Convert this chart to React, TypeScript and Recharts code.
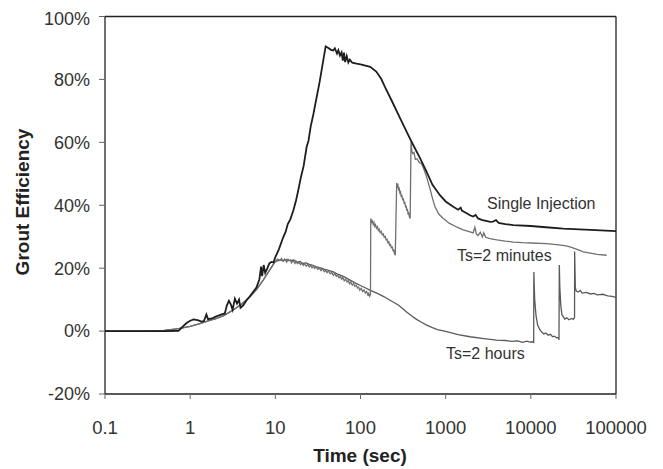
import React from 'react';
import { LineChart, Line, XAxis, YAxis, ReferenceLine, Customized } from 'recharts';

const xTicks = [0.1, 1, 10, 100, 1000, 10000, 100000];
const yTicks = [-20, 0, 20, 40, 60, 80, 100];

const sharedStart: [number, number][] = [
  [0.1, 0], [0.3, 0], [0.5, 0.2], [0.73, 0.8], [1, 1.5], [1.3, 2.4], [1.7, 3.4], [2.05, 4], [2.5, 5],
  [3.2, 6.7], [4, 8.5], [5.04, 10.9], [6, 13.2], [7.2, 16.2], [8.5, 19.2], [9.9, 22],
];

const singleInjection: [number, number][] = [
  [0.1, 0], [0.5, 0], [0.73, 0.1], [0.8, 1.2], [0.9, 2.5], [1.0, 3.3], [1.1, 3.7], [1.25, 3.4], [1.35, 3.0],
  [1.45, 3.2], [1.55, 5.3], [1.62, 3.8], [1.8, 4.0], [2.0, 4.6], [2.3, 5.2], [2.55, 5.6], [2.7, 8.2],
  [2.85, 9.6], [3.0, 8.5], [3.15, 6.8], [3.35, 10.3], [3.55, 8.7], [3.75, 10.0], [3.9, 7.4], [4.2, 8.2],
  [4.6, 9.8], [5.0, 11], [5.5, 12.5], [6.0, 13.8], [6.5, 16.5], [6.8, 20.5], [7.0, 17.5], [7.3, 21],
  [7.6, 18.5], [8.0, 19.8], [8.5, 21.5], [9.0, 22], [9.5, 21.8], [10, 23.5], [11, 26], [12.4, 29.9],
  [13.2, 31.5], [14, 34], [15, 35.5], [16.3, 38.4], [17.5, 41.5], [18.6, 44.8], [20, 49], [21.5, 52.5],
  [23.3, 58.5], [24.5, 60.5], [26, 65], [28, 69], [30.6, 74.4], [33, 79], [36, 85], [39, 90.5], [42, 90],
  [45, 89.4], [47.9, 89.2], [50, 89.9], [53, 88.2], [55, 89.3], [57.4, 87.6], [60, 88.6], [62, 86],
  [64, 88.5], [66, 85.5], [68.9, 87.4], [72, 85.4], [75, 86.3], [80, 85.3], [90, 85.0], [100, 84.8],
  [130, 84], [153, 82.5], [175, 80.2], [193, 77.7], [232, 73.3], [300, 67], [399, 60.1], [500, 55],
  [598, 50.6], [700, 46.5], [857, 43.2], [1000, 41.2], [1230, 39.5], [1400, 38.6], [1500, 39.2],
  [1550, 38.3], [1700, 37.7], [1930, 36.8], [2100, 36.4], [2250, 36.9], [2400, 35.8], [2700, 35.3],
  [3000, 35.0], [3310, 34.7], [3600, 34.8], [3900, 35.3], [4200, 34.4], [5000, 34.0], [6220, 33.7],
  [10000, 33.4], [15000, 33.0], [24000, 32.6], [50000, 32.2], [100000, 31.8],
];

const ts2Minutes: [number, number][] = [
  ...sharedStart,
  [10.6, 22.9], [11.3, 22.4], [11.8, 23.1], [12.3, 22.2], [12.8, 22.9], [13.2, 22.5], [13.6, 21.9],
  [14.1, 22.8], [14.5, 22.3], [15, 22.6], [15.5, 21.7], [16, 22.4], [16.5, 22.1], [17, 21.5], [17.5, 22.2],
  [18.2, 21.4], [19, 21.9], [19.8, 21.1], [20.5, 21.6], [21.3, 20.9], [22, 21.4], [23, 20.6], [24, 21.2],
  [25, 20.4], [26, 20.9], [27, 20.1], [28, 20.6], [29, 19.9], [30, 20.4], [31.5, 19.6], [33, 20.0],
  [34.5, 19.2], [36, 19.8], [37.5, 18.9], [39, 19.3], [40.5, 18.6], [42, 19.1], [44, 18.2], [46, 18.6],
  [48, 17.7], [50, 18.3], [52, 17.4], [54, 17.8], [56, 16.9], [58, 17.4], [60, 16.5], [62, 17.0],
  [64.5, 16.0], [67, 16.5], [69.5, 15.6], [72, 16.0], [74.5, 15.0], [77, 15.6], [80, 14.6], [83, 15.1],
  [86, 14.2], [89, 14.6], [92, 13.7], [95, 14.0], [98, 13.0], [102, 13.6], [106, 12.6], [110, 13.1],
  [114, 12.1], [118, 12.6], [122, 11.5], [125, 12.0], [128, 11.1], [131, 11.8], [132, 35.8], [135, 34.6],
  [138, 35.0], [141, 33.9], [144, 34.5], [147, 33.3], [150, 33.8], [154, 32.7], [158, 33.2], [162, 32.0],
  [166, 32.4], [170, 31.3], [175, 31.7], [180, 30.6], [185, 30.9], [190, 29.8], [195, 30.1], [200, 29.0],
  [205, 29.2], [210, 28.1], [215, 28.4], [220, 27.3], [225, 27.5], [230, 26.5], [236, 26.7], [241, 25.6],
  [246, 25.7], [251, 24.6], [256, 24.1], [266, 47.1], [270, 46.0], [275, 46.4], [280, 45.0], [285, 45.3],
  [290, 43.9], [295, 44.2], [300, 42.9], [306, 43.1], [312, 41.8], [318, 42.0], [325, 40.7], [331, 40.9],
  [338, 39.6], [344, 39.7], [350, 38.5], [356, 38.6], [362, 37.3], [368, 37.5], [375, 36.3], [383, 35.8],
  [392, 60.1], [402, 57], [413, 56.4], [425, 56.8], [440, 54.6], [460, 54.8], [490, 53.6], [522, 53.2],
  [560, 51.2], [598, 49], [630, 46.8], [655, 45.3], [700, 42.2], [750, 39.5], [830, 37.2], [938, 35.8],
  [1100, 34.3], [1346, 33.1], [1600, 32.2], [1932, 31.5], [2100, 31.2], [2200, 33], [2300, 30.8],
  [2400, 30.4], [2550, 31.4], [2700, 29.9], [2800, 31.2], [2950, 29.8], [3310, 29.4], [4000, 29.0],
  [5000, 28.6], [6220, 28.3], [8000, 28.1], [10000, 28.0], [15300, 27.8], [20000, 27.5], [25000, 27.2],
  [28800, 26.8], [33000, 26.2], [38000, 25.6], [41300, 25.2], [50000, 24.8], [60000, 24.4], [77800, 24.1],
];

const ts2Hours: [number, number][] = [
  ...sharedStart,
  [11.3, 22.6], [12.5, 22.3], [13.5, 22.8], [15, 22.4], [16.5, 22.6], [18, 21.9], [19.5, 22.1], [21, 21.5],
  [23, 21.7], [25, 21.2], [27, 21.0], [30.6, 20.4], [34, 20.1], [38, 19.6], [42, 19.3], [47.9, 18.8],
  [53, 18.2], [60, 17.6], [67, 17.0], [75.3, 16.2], [85, 15.4], [100, 14.5], [115, 13.7], [129, 13.0],
  [160, 11.9], [190, 10.9], [222, 9.8], [250, 9.0], [280, 8.2], [315, 7.1], [348, 6.1], [400, 4.8],
  [450, 3.8], [520, 2.8], [598, 1.9], [700, 1.1], [800, 0.5], [1028, -0.2], [1400, -1.1], [1932, -1.8],
  [2800, -2.4], [3972, -2.9], [5000, -3.0], [6000, -3.3], [7000, -3.1], [8000, -3.6], [9000, -3.2],
  [9772, -3.5], [10500, -3.4], [10800, -3.6], [10850, 18.8], [11100, 10], [11500, 5], [12000, 2],
  [12700, 0.5], [13500, -0.4], [14200, -0.9], [15000, -0.6], [16000, -1.3], [17000, -1.0], [18000, -1.8],
  [19000, -1.6], [20000, -2.1], [21000, -2.0], [21400, -2.8], [21600, 21.0], [21900, 14], [22500, 8],
  [23200, 5.2], [24000, 4.6], [25000, 3.8], [26500, 4.2], [28000, 3.6], [30000, 4.0], [31500, 3.7],
  [32600, 4.3], [32700, 25.3], [33300, 14], [34000, 12.8], [36000, 12.4], [38000, 12.9], [40000, 12.1],
  [45000, 12.3], [50000, 11.8], [55000, 12.0], [60000, 11.5], [70000, 11.7], [80000, 11.2], [90000, 11.0],
  [100000, 10.7],
];

const toRows = (arr: [number, number][]) => arr.map(([t, v]) => ({ t, v }));

const FONT = 'Liberation Sans, Arial, Helvetica, sans-serif';

const Annotations = () => (
  <g fontFamily={FONT}>
    <text x={479} y={201} fontSize={16} fill="#333">Single Injection</text>
    <text x={449} y={253} fontSize={16} fill="#333">Ts=2 minutes</text>
    <text x={438} y={351} fontSize={16} fill="#333">Ts=2 hours</text>
    <text x={352} y={454} fontSize={19} fontWeight="bold" fill="#222" textAnchor="middle">Time (sec)</text>
    <text x={21} y={194} fontSize={19} fontWeight="bold" fill="#222" textAnchor="middle"
      transform="rotate(-90 21 194)">Grout Efficiency</text>
  </g>
);

export default function App() {
  return (
    <LineChart width={655} height={461} margin={{ top: 8.5, right: 47, bottom: 0, left: 0 }}>
      <XAxis
        dataKey="t"
        type="number"
        scale="log"
        domain={[0.1, 100000]}
        ticks={xTicks}
        allowDataOverflow
        height={75}
        tickSize={5}
        tickMargin={22}
        tickFormatter={(v: number) => String(v)}
        stroke="#222"
        tick={{ fill: '#333', fontSize: 18.5, fontFamily: FONT }}
        tickLine={{ stroke: '#666' }}
        axisLine={{ stroke: '#222', strokeWidth: 1.3 }}
      />
      <YAxis
        type="number"
        domain={[-20, 100]}
        ticks={yTicks}
        allowDataOverflow
        width={97}
        tickSize={6}
        tickMargin={9}
        tickFormatter={(v: number) => `${v}%`}
        tick={{ fill: '#333', fontSize: 18, fontFamily: FONT }}
        tickLine={{ stroke: '#666' }}
        axisLine={{ stroke: '#222', strokeWidth: 1.3 }}
      />
      <ReferenceLine y={100} stroke="#222" strokeWidth={1.3} />
      <ReferenceLine x={100000} stroke="#222" strokeWidth={1.3} />
      <Line data={toRows(ts2Hours)} dataKey="v" type="linear" stroke="#5a5a5a" strokeWidth={1.3} dot={false} isAnimationActive={false} />
      <Line data={toRows(ts2Minutes)} dataKey="v" type="linear" stroke="#707070" strokeWidth={1.3} dot={false} isAnimationActive={false} />
      <Line data={toRows(singleInjection)} dataKey="v" type="linear" stroke="#1e1e1e" strokeWidth={1.8} dot={false} isAnimationActive={false} />
      <Customized component={Annotations} />
    </LineChart>
  );
}
